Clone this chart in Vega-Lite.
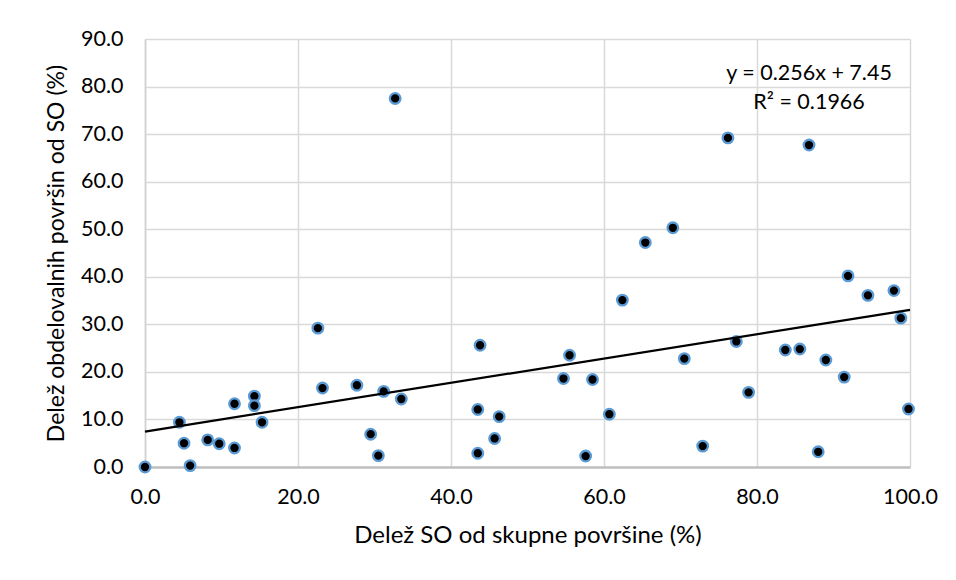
{
  "$schema": "https://vega.github.io/schema/vega-lite/v6.json",
  "width": 765,
  "height": 428,
  "autosize": {"type": "none"},
  "padding": {"left": 145, "top": 39, "right": 46, "bottom": 113},
  "background": "white",
  "config": {
    "font": "Lato",
    "view": {"stroke": null},
    "axis": {
      "labelFont": "Lato",
      "titleFont": "Lato",
      "labelColor": "#000000",
      "titleColor": "#000000",
      "labelFontSize": 21.5,
      "titleFontSize": 24,
      "titleFontWeight": "normal",
      "labelFlush": false,
      "ticks": false,
      "gridColor": "#d9d9d9",
      "gridWidth": 1.5
    }
  },
  "datasets": {
    "points": [
      {"x": 0, "y": 0}, {"x": 4.5, "y": 9.4}, {"x": 5.1, "y": 5.0}, {"x": 5.9, "y": 0.3},
      {"x": 8.2, "y": 5.7}, {"x": 9.7, "y": 4.9}, {"x": 11.7, "y": 13.3}, {"x": 11.7, "y": 4.0},
      {"x": 14.3, "y": 14.9}, {"x": 14.3, "y": 12.9}, {"x": 15.3, "y": 9.4}, {"x": 22.6, "y": 29.2},
      {"x": 23.2, "y": 16.6}, {"x": 27.7, "y": 17.2}, {"x": 29.5, "y": 6.9}, {"x": 30.5, "y": 2.4},
      {"x": 31.2, "y": 15.9}, {"x": 33.5, "y": 14.3}, {"x": 32.7, "y": 77.5}, {"x": 43.8, "y": 25.6},
      {"x": 43.5, "y": 12.1}, {"x": 46.3, "y": 10.6}, {"x": 45.7, "y": 6.0}, {"x": 43.5, "y": 2.9},
      {"x": 55.5, "y": 23.5}, {"x": 54.7, "y": 18.6}, {"x": 58.5, "y": 18.4}, {"x": 57.6, "y": 2.3},
      {"x": 60.7, "y": 11.1}, {"x": 62.4, "y": 35.1}, {"x": 65.4, "y": 47.2}, {"x": 69.0, "y": 50.3},
      {"x": 70.5, "y": 22.8}, {"x": 72.9, "y": 4.4}, {"x": 76.2, "y": 69.2}, {"x": 77.3, "y": 26.4},
      {"x": 78.9, "y": 15.7}, {"x": 83.7, "y": 24.6}, {"x": 85.6, "y": 24.8}, {"x": 86.8, "y": 67.7},
      {"x": 88.0, "y": 3.2}, {"x": 89.0, "y": 22.5}, {"x": 91.4, "y": 18.9}, {"x": 91.9, "y": 40.2},
      {"x": 94.5, "y": 36.1}, {"x": 97.9, "y": 37.1}, {"x": 98.8, "y": 31.3}, {"x": 99.8, "y": 12.2}
    ],
    "trend": [
      {"x": 0, "y": 7.45},
      {"x": 100, "y": 33.05}
    ],
    "labels": [
      {"x": 86.8, "y": 82.6, "text": "y = 0.256x + 7.45"},
      {"x": 86.8, "y": 76.6, "text": "R² = 0.1966"}
    ]
  },
  "layer": [
    {
      "data": {"name": "points"},
      "mark": {"type": "point", "shape": "circle", "filled": false, "fill": "#000000", "stroke": "#5b9bd5", "strokeWidth": 2.3, "size": 112, "opacity": 1, "fillOpacity": 1},
      "encoding": {
        "x": {
          "field": "x", "type": "quantitative",
          "scale": {"domain": [0, 100], "nice": false, "zero": true},
          "axis": {
            "title": "Delež SO od skupne površine (%)",
            "values": [0, 20, 40, 60, 80, 100],
            "format": ".1f",
            "labelPadding": 19,
            "titlePadding": 16,
            "domainColor": "#bfbfbf",
            "domainWidth": 2.5,
            "grid": true
          }
        },
        "y": {
          "field": "y", "type": "quantitative",
          "scale": {"domain": [0, 90], "nice": false, "zero": true},
          "axis": {
            "title": "Delež obdelovalnih površin  od SO (%)",
            "titleFontSize": 23,
            "values": [0, 10, 20, 30, 40, 50, 60, 70, 80, 90],
            "format": ".1f",
            "labelPadding": 22,
            "titlePadding": 12,
            "domainColor": "#d0d0d0",
            "domainWidth": 1.5,
            "grid": true
          }
        }
      }
    },
    {
      "data": {"name": "trend"},
      "mark": {"type": "line", "color": "#000000", "strokeWidth": 2.2},
      "encoding": {
        "x": {"field": "x", "type": "quantitative"},
        "y": {"field": "y", "type": "quantitative"}
      }
    },
    {
      "data": {"name": "labels"},
      "mark": {"type": "text", "align": "center", "baseline": "middle", "font": "Lato", "fontSize": 21.5, "color": "#000000"},
      "encoding": {
        "x": {"field": "x", "type": "quantitative"},
        "y": {"field": "y", "type": "quantitative"},
        "text": {"field": "text"}
      }
    }
  ]
}
